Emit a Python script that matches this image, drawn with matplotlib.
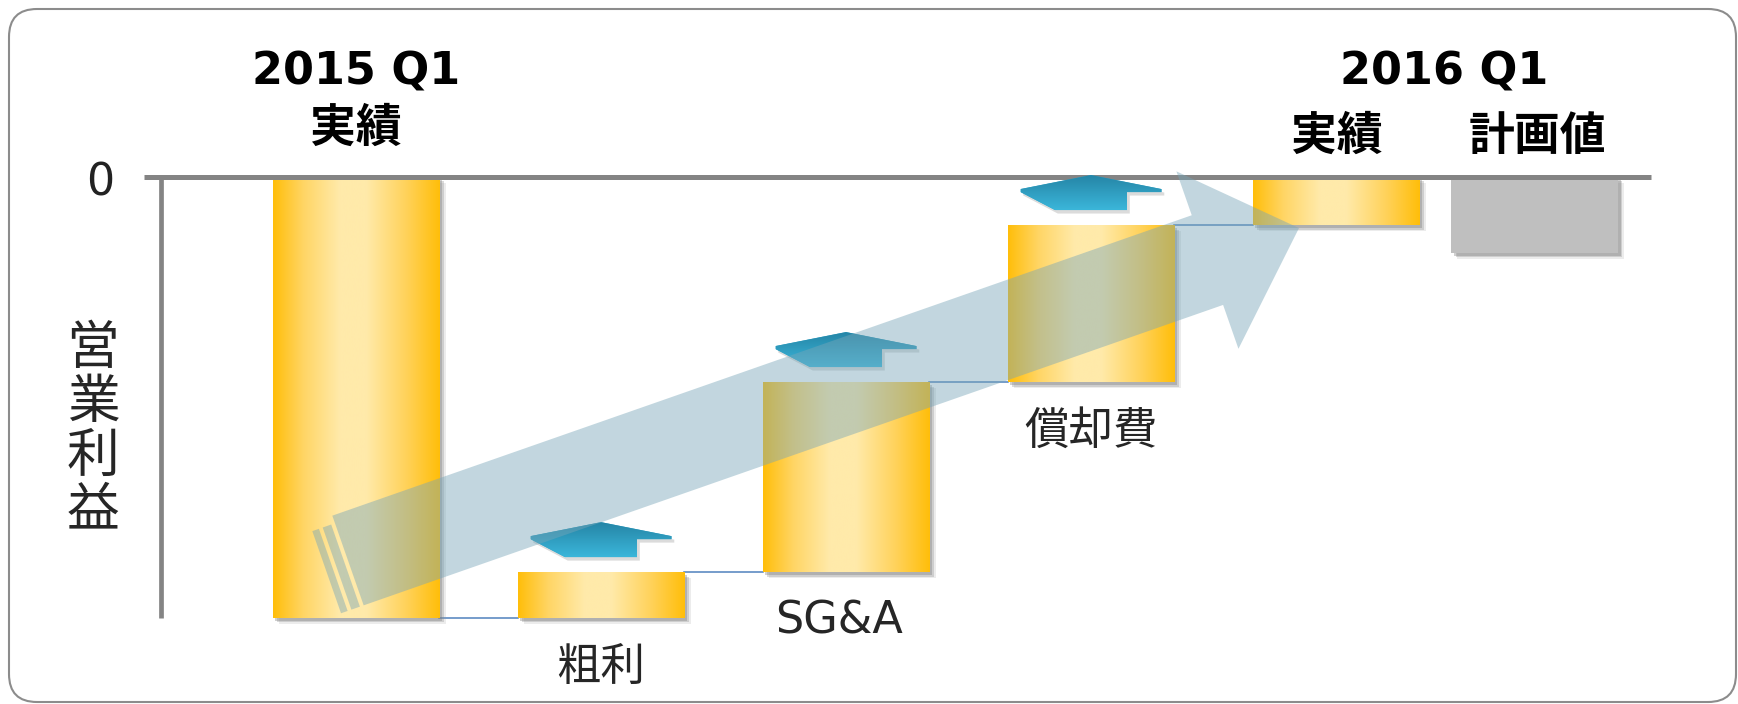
import numpy as np
import matplotlib
matplotlib.use('Agg')
import matplotlib.pyplot as plt
from matplotlib.patches import FancyBboxPatch, Polygon
from matplotlib.colors import LinearSegmentedColormap
import matplotlib.patheffects as pe
from matplotlib.transforms import IdentityTransform

plt.rcParams['font.family'] = ['Noto Sans CJK JP', 'DejaVu Sans']

# ---------------- data ----------------
title_left = ['2015 Q1', '実績']
title_right = ['2016 Q1', '実績', '計画値']
step_labels = ['粗利', 'SG&A', '償却費']
y_label = '営業利益'
y_tick_values = [0]
y_tick_labels = ['0']

start_value = -100.0
step_values = [10.4, 43.1, 35.6]
end_value = -10.9
plan_value = -17.2
positions = [0, 1, 2, 3, 4, 4.81]

# ---------------- figure / axes ----------------
W, H = 1738, 704
DPI = 100
fig = plt.figure(figsize=(W / DPI, H / DPI), dpi=DPI, facecolor='white')
ax = fig.add_axes([0, 0, 1, 1])
ax.axis('off')
X0, XS = 356.0, 245.0   # pixel column of x=0 and pixels per x unit
Y0, YS = 177.0, 4.41    # pixel row of value 0 and pixels per value unit
ax.set_xlim(-X0 / XS, (W - X0) / XS)
ax.set_ylim(-(H - Y0) / YS, Y0 / YS)
ax.set_autoscale_on(False)

def px(v):  # pixels -> x data units
    return v / XS

def py(v):  # pixels -> y data units
    return v / YS

# rounded frame
frame = FancyBboxPatch((9, 2), 1727, 693, boxstyle="round,pad=0,rounding_size=28",
                       transform=IdentityTransform(), facecolor='none',
                       edgecolor='#8C8C8C', linewidth=1.5, zorder=0)
ax.add_patch(frame)
frame.set_clip_on(False)

# ---------------- bars ----------------
bottoms, heights = [start_value], [-start_value]
lvl = start_value
levels = [start_value]
for d in step_values:
    bottoms.append(lvl)
    heights.append(d)
    lvl += d
    levels.append(lvl)
bottoms.append(end_value); heights.append(-end_value)
bottoms.append(plan_value); heights.append(-plan_value)

BW = 0.68
colors = ['#FFC000'] * 5 + ['#BFBFBF']
bars = ax.bar(positions, heights, bottom=bottoms, width=BW, color=colors,
              linewidth=0, zorder=2)
shadow = [pe.SimplePatchShadow(offset=(4.5, -4.5), shadow_rgbFace='#9a9a9a', alpha=0.18),
          pe.SimplePatchShadow(offset=(3.2, -3.2), shadow_rgbFace='#8a8a8a', alpha=0.3),
          pe.SimplePatchShadow(offset=(2.0, -2.0), shadow_rgbFace='#7a7a7a', alpha=0.35),
          pe.Normal()]
for b in bars:
    b.set_path_effects(shadow)

gold = LinearSegmentedColormap.from_list('gold', [
    (0.0, '#FFBE0A'), (0.18, '#FFD564'), (0.40, '#FFEAAA'),
    (0.56, '#FFEAAA'), (0.80, '#FFD25A'), (1.0, '#FFBE0A')])
grad = np.linspace(0, 1, 256).reshape(1, -1)
for b in bars[:5]:
    x0, w, y0, h = b.get_x(), b.get_width(), b.get_y(), b.get_height()
    im = ax.imshow(grad, extent=[x0, x0 + w, y0, y0 + h], cmap=gold,
                   aspect='auto', zorder=2.5, interpolation='bicubic')
    im.set_clip_path(b)

# connectors
for i in range(4):
    xa = positions[i] + BW / 2
    xb = positions[i + 1] - BW / 2
    ax.plot([xa, xb], [levels[i], levels[i]], color='#4F81BD', lw=1.1, zorder=1.5)

# axes lines
ax.plot([positions[0] - px(212), px(1651 - X0)], [0, 0], color='#848484', lw=3.6,
        solid_capstyle='butt', zorder=4)
ax.plot([positions[0] - px(195)] * 2, [0, start_value], color='#848484', lw=3.4,
        solid_capstyle='butt', zorder=4)
for v, t in zip(y_tick_values, y_tick_labels):
    ax.text(positions[0] - px(256), v - py(6), t, fontsize=32, family='DejaVu Sans',
            color='#222222', ha='center', va='center')

# small up arrows
arrow_cmap = LinearSegmentedColormap.from_list('teal', ['#2585A6', '#3BB6DA'])
vgrad = np.linspace(0, 1, 128).reshape(-1, 1)
for i in range(1, 4):
    cx = positions[i]
    top = bottoms[i] + heights[i]
    g, sh, hh, bt = py(15), py(18), py(17), py(3)
    hhw, shw = px(70.5), px(36)
    pts = [(cx - shw, top + g), (cx + shw, top + g), (cx + shw, top + g + sh),
           (cx + hhw, top + g + sh), (cx + hhw, top + g + sh + bt),
           (cx, top + g + sh + hh), (cx - hhw, top + g + sh + bt), (cx - hhw, top + g + sh)]
    poly = Polygon(pts, closed=True, facecolor='#33A9CC', edgecolor='none', zorder=4.5,
                   path_effects=[pe.SimplePatchShadow(offset=(2, -2.5), shadow_rgbFace='#888888', alpha=0.3),
                                 pe.Normal()])
    ax.add_patch(poly)
    im = ax.imshow(vgrad, extent=[cx - hhw, cx + hhw, top + g, top + g + sh + hh],
                   cmap=arrow_cmap, aspect='auto', zorder=4.6, origin='upper')
    im.set_clip_path(poly)

# big translucent arrow (display coordinates)
fig.canvas.draw()
T = ax.transData.transform((positions[0] - px(8), start_value + py(-560.5 + 618)))
P = ax.transData.transform((positions[4] - px(1337 - 1300), end_value - py(228 - 225)))
d = (P - T) / np.linalg.norm(P - T)
n = np.array([-d[1], d[0]])
hw, hh, hl = 47.5, 94.0, 97.0
B = P - d * hl
big = [T + n * hw, B + n * hw, B + n * hh, P, B - n * hh, B - n * hw, T - n * hw]
arrow_color = '#78A6B8'
ax.add_patch(Polygon(big, closed=True, transform=IdentityTransform(), facecolor=arrow_color,
                     edgecolor='none', alpha=0.45, zorder=5))
for s0, s1 in [(-13, -4), (-24, -17)]:
    stripe = [T + d * s0 + n * (hw - 8), T + d * s1 + n * (hw - 8),
              T + d * s1 - n * hw, T + d * s0 - n * hw]
    ax.add_patch(Polygon(stripe, closed=True, transform=IdentityTransform(),
                         facecolor=arrow_color, edgecolor='none', alpha=0.45, zorder=5))

# step labels under bars
for i, lab in enumerate(step_labels, start=1):
    fam = 'DejaVu Sans' if lab.isascii() else ['Noto Sans CJK JP', 'DejaVu Sans']
    ax.text(positions[i] - (px(7) if lab.isascii() else 0), bottoms[i] - py(49), lab,
            fontsize=32 if lab.isascii() else 32, family=fam,
            color='#262626', ha='center', va='center', zorder=6)

# titles
def ftext(xp, yp, s, **kw):
    fig.text(xp / W, 1 - yp / H, s, ha='center', va='center', **kw)

ftext(356, 72, title_left[0], fontsize=32, fontweight='bold', family='DejaVu Sans')
ftext(356, 129, title_left[1], fontsize=33, fontweight='bold')
ftext(1444, 72, title_right[0], fontsize=32, fontweight='bold', family='DejaVu Sans')
ftext(1337, 137, title_right[1], fontsize=33, fontweight='bold')
ftext(1537, 137, title_right[2], fontsize=33, fontweight='bold')

# vertical y label
for k, ch in enumerate(y_label):
    ftext(93, 348 + 54 * k, ch, fontsize=38, color='#262626')

fig.savefig('out.png', dpi=DPI, facecolor='white')
